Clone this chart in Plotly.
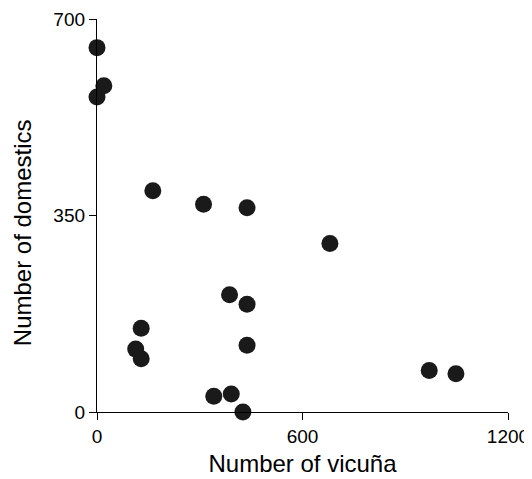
import plotly.graph_objects as go

vicuna = [0, 20, 0, 163, 311, 438, 680, 387, 438, 129, 113, 129, 438, 970, 1048, 341, 392, 426]
domestics = [649, 581, 561, 394, 370, 364, 300, 209, 192, 149, 112, 95, 119, 74, 68, 28, 32, 0]

x_ticks = [0, 600, 1200]
y_ticks = [0, 350, 700]

fig = go.Figure(go.Scatter(
    x=vicuna, y=domestics, mode="markers",
    marker=dict(size=17, color="#1a1a1a", line=dict(width=0)),
    cliponaxis=False,
))

axis_common = dict(
    showline=True, linecolor="black", linewidth=1.3,
    ticks="outside", ticklen=7, tickwidth=1.3, tickcolor="black",
    showgrid=False, zeroline=False, automargin=False,
    tickfont=dict(size=19, color="black"),
)

# page body has an 8px default margin, so the figure is sized to fit inside it
fig.update_layout(
    width=524, height=471,
    margin=dict(l=89, r=24, t=11, b=67),
    paper_bgcolor="white", plot_bgcolor="white",
    font=dict(family="Liberation Sans, Arial, sans-serif", color="black"),
    showlegend=False,
    xaxis=dict(range=[0, 1200], tickvals=x_ticks,
               title=dict(text="Number of vicuña", font=dict(size=24), standoff=9),
               **axis_common),
    yaxis=dict(range=[0, 700], tickvals=y_ticks, **axis_common),
    annotations=[dict(
        text="Number of domestics", textangle=-90,
        xref="paper", yref="paper", x=0, y=0.455,
        xanchor="center", yanchor="middle", xshift=-75,
        showarrow=False, font=dict(size=24, color="black"),
    )],
)

fig.write_html("out.html")
